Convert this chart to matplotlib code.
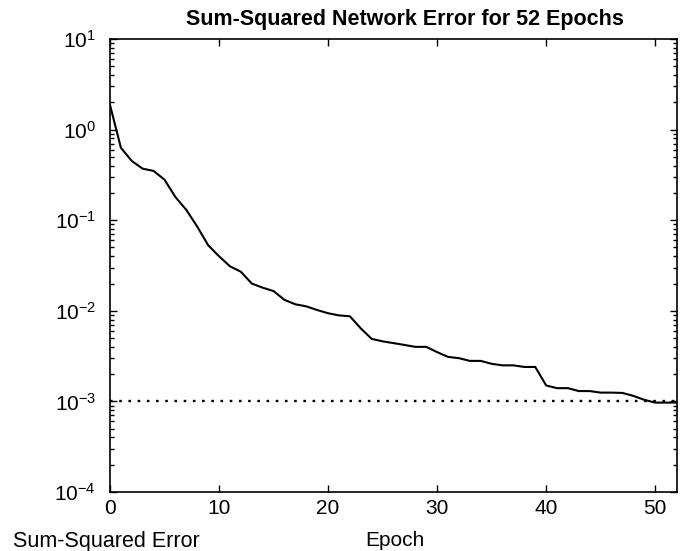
import matplotlib
matplotlib.use("Agg")
import matplotlib.pyplot as plt
import numpy as np
from matplotlib.ticker import LogLocator, NullFormatter

plt.rcParams['font.family'] = ['Liberation Sans', 'DejaVu Sans']
plt.rcParams['mathtext.fontset'] = 'custom'
plt.rcParams['mathtext.rm'] = 'Liberation Sans'
plt.rcParams['axes.unicode_minus'] = False

# Training record: sum-squared error per epoch
epochs = list(range(0, 53))
sse = [1.87, 0.63, 0.45, 0.37, 0.35, 0.28, 0.18, 0.13, 0.085, 0.053,
       0.040, 0.031, 0.027, 0.020, 0.018, 0.0165, 0.0132, 0.0118, 0.0112, 0.0102,
       0.0094, 0.0089, 0.0087, 0.0064, 0.0049, 0.0046, 0.0044, 0.0042, 0.0040, 0.0040,
       0.0035, 0.0031, 0.0030, 0.0028, 0.0028, 0.0026, 0.0025, 0.0025, 0.0024, 0.0024,
       0.0015, 0.0014, 0.0014, 0.0013, 0.0013, 0.00125, 0.00125, 0.00124, 0.00115, 0.00104,
       0.00097, 0.00097, 0.00097]
goal = 0.001
x_ticks = [0, 10, 20, 30, 40, 50]

fig = plt.figure(figsize=(6.87, 5.51), dpi=100)
ax = fig.add_axes([110/687, 1-492/551, (677-110)/687, (492-39)/551])

ax.semilogy(epochs, sse, color='black', lw=1.5)
ax.plot([epochs[0], epochs[-1]], [goal, goal], color='black', lw=1.7,
        linestyle=(0, (1.1, 2.8)))

ax.set_xlim(0, 52)
ax.set_ylim(1e-4, 1e1)
ax.set_xticks(x_ticks)
ax.yaxis.set_major_locator(LogLocator(base=10, numticks=10))
ax.yaxis.set_minor_locator(LogLocator(base=10, subs=np.arange(2, 10), numticks=20))
ax.yaxis.set_minor_formatter(NullFormatter())

ax.tick_params(which='both', direction='in', top=True, right=True,
               labelsize=15, width=1.0)
ax.tick_params(which='major', length=5)
ax.tick_params(which='minor', length=3)
ax.tick_params(axis='x', pad=5)
ax.tick_params(axis='y', pad=10)
for s in ax.spines.values():
    s.set_linewidth(1.2)

fig.text(405/687, 1-19/551, 'Sum-Squared Network Error for 52 Epochs',
         ha='center', va='center', fontsize=15.5, fontweight='bold')
fig.text(395/687, 1-541/551, 'Epoch', ha='center', va='center', fontsize=15)
fig.text(13/687, 1-542/551, 'Sum-Squared Error', ha='left', va='center', fontsize=15.5)

fig.savefig('out.png', dpi=100)
